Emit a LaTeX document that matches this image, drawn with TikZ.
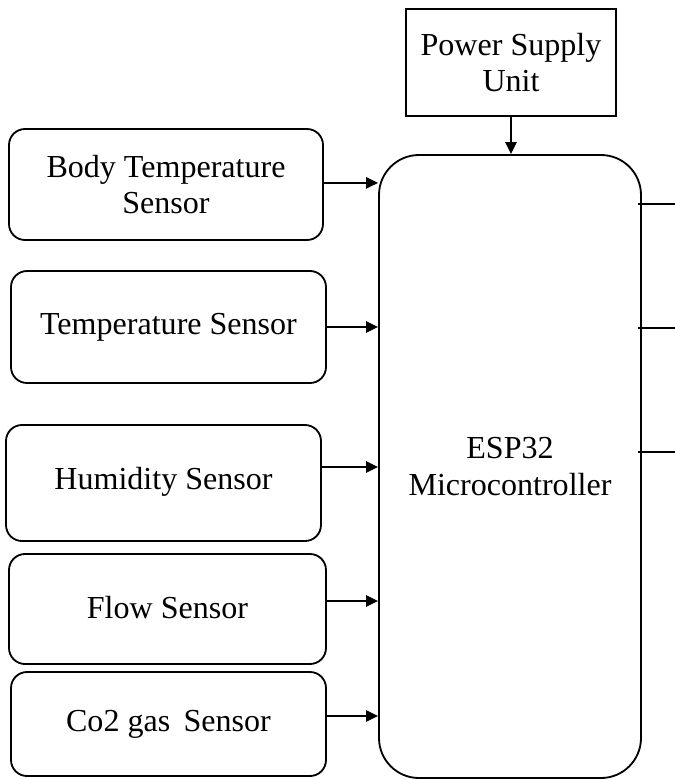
\documentclass[tikz,border=0pt]{standalone}
\usepackage{fontspec}
\setmainfont{Liberation Serif}
\usetikzlibrary{arrows.meta}
\tikzset{
    sensorbox/.style={draw, line width=1.3pt, rounded corners=0.4cm, align=center, inner sep=0pt},
    flecha/.style={line width=1.3pt, -{Triangle[length=3mm,width=2.8mm]}},
    linea/.style={line width=1.3pt}
}
\begin{document}
\begin{tikzpicture}[font=\fontsize{22.8}{26}\selectfont]
    \useasboundingbox (0,0) rectangle (16.875,-19.5);

    % Dibuja la fuente y el microcontrolador
    \node[draw, line width=1.3pt, minimum width=5.25cm, minimum height=2.675cm, align=center, inner sep=0pt] (psu) at (12.775,-1.5625) {Power Supply\\Unit};
    \node[sensorbox, rounded corners=1cm, minimum width=6.55cm, minimum height=15.575cm] (esp) at (12.75,-11.6625) {ESP32\\Microcontroller};

    % Dibuja los sensores
    \node[sensorbox, minimum width=7.85cm, minimum height=2.775cm] (body) at (4.15,-4.6125) {Body Temperature\\Sensor};
    \node[sensorbox, minimum width=7.875cm, minimum height=2.8cm] (temp) at (4.2125,-8.175) {Temperature Sensor};
    \node[sensorbox, minimum width=7.875cm, minimum height=2.9cm] (hum) at (4.0875,-12.075) {\raisebox{0.25cm}{Humidity Sensor}};
    \node[sensorbox, minimum width=7.925cm, minimum height=2.75cm] (flow) at (4.1875,-15.225) {\raisebox{0.1cm}{Flow Sensor}};
    \node[sensorbox, minimum width=7.875cm, minimum height=2.6cm] (co2) at (4.2125,-18.1) {\raisebox{0.1cm}{Co2 gas\, Sensor}};

    % Dibuja las flechas hacia el ESP32
    \draw[flecha] (psu.south) -- (esp.north -| psu.south);
    \draw[flecha] ([yshift=0.04cm]body.east) -- ([yshift=0.04cm]esp.west |- body.east);
    \draw[flecha] (temp.east) -- (esp.west |- temp.east);
    \draw[flecha] ([yshift=0.4cm]hum.east) -- ([yshift=0.4cm]esp.west |- hum.east);
    \draw[flecha] ([yshift=0.2cm]flow.east) -- ([yshift=0.2cm]esp.west |- flow.east);
    \draw[flecha] ([yshift=0.2cm]co2.east) -- ([yshift=0.2cm]esp.west |- co2.east);

    % Dibuja las salidas a la derecha
    \coordinate (out1) at (16.875,-5.1);
    \coordinate (out2) at (16.875,-8.2);
    \coordinate (out3) at (16.875,-11.3);
    \foreach \o in {out1,out2,out3}
        \draw[linea] ([xshift=-0.1cm]esp.east |- \o) -- (\o);
\end{tikzpicture}
\end{document}
